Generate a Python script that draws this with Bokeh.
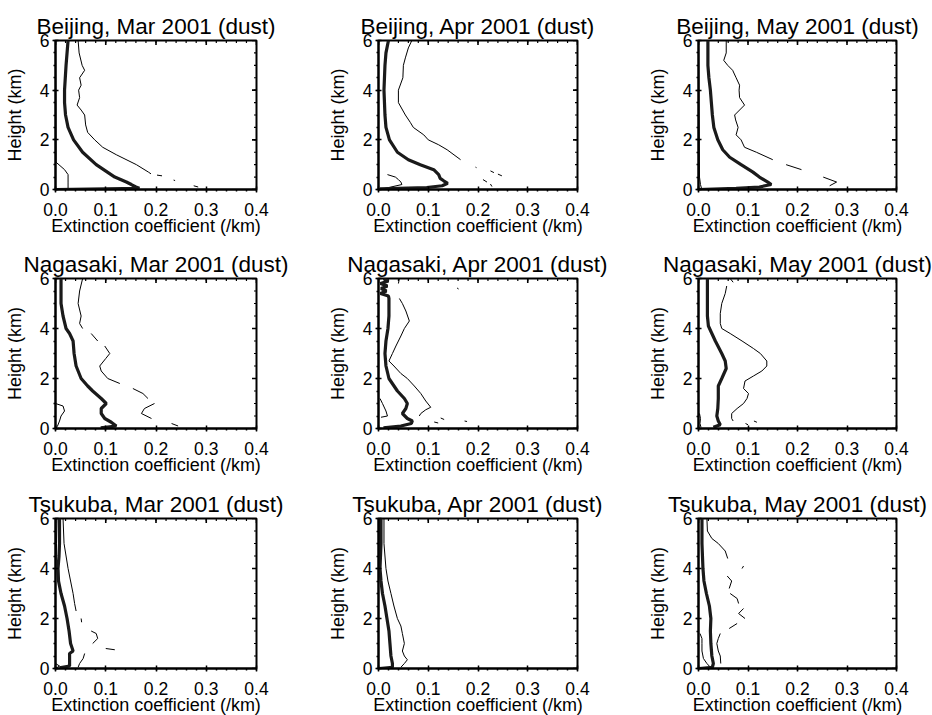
import math
from bokeh.plotting import figure
from bokeh.layouts import gridplot
from bokeh.models import Range1d, FixedTicker, PrintfTickFormatter
from bokeh.embed import file_html
from bokeh.resources import INLINE

NaN = float("nan")

sites = ["Beijing", "Nagasaki", "Tsukuba"]
months = ["Mar", "Apr", "May"]
x_ticks = [0.0, 0.1, 0.2, 0.3, 0.4]
y_ticks = [0, 2, 4, 6]
x_label = "Extinction coefficient (/km)"
y_label = "Height (km)"

# ---------------- Beijing, Mar ----------------
bj_mar_mean_h = [6.0, 5.0, 4.0, 3.5, 3.0, 2.5, 2.0, 1.5, 1.0, 0.5, 0.3, 0.2, 0.1, 0.05, 0.0]
bj_mar_mean_x = [0.025, 0.021, 0.018, 0.018, 0.020, 0.025, 0.036, 0.054, 0.081, 0.118, 0.141, 0.151, 0.160, 0.167, 0.0]
bj_mar_up_h = [6.0, 5.5, 5.0, 4.8, 4.5, 4.2, 4.0, 3.7, 3.4, 3.2, 3.0, 2.6, 2.3, 2.0, 1.7, 1.4, 1.0, 0.7, 0.63, NaN, 0.58, 0.55, NaN, 0.38, 0.36, NaN, 0.15, 0.1]
bj_mar_up_x = [0.045, 0.047, 0.053, 0.058, 0.048, 0.051, 0.046, 0.048, 0.043, 0.051, 0.058, 0.060, 0.064, 0.078, 0.094, 0.121, 0.161, 0.185, 0.190, NaN, 0.202, 0.212, NaN, 0.235, 0.238, NaN, 0.275, 0.284]
bj_mar_lo_h = [6.0, 1.1, 0.8, 0.6, 0.3, 0.05]
bj_mar_lo_x = [0.0, 0.001, 0.018, 0.025, 0.025, 0.025]

# ---------------- Beijing, Apr ----------------
bj_apr_mean_h = [6.0, 5.5, 5.0, 4.0, 3.0, 2.5, 2.0, 1.5, 1.2, 1.0, 0.8, 0.6, 0.45, 0.35, 0.25, 0.15, 0.08, 0.03]
bj_apr_mean_x = [0.020, 0.015, 0.013, 0.011, 0.013, 0.015, 0.022, 0.038, 0.060, 0.084, 0.111, 0.121, 0.124, 0.131, 0.139, 0.128, 0.097, 0.003]
bj_apr_up_h = [6.0, 5.7, 5.3, 5.0, 4.5, 4.0, 3.5, 3.0, 2.7, 2.5, 2.2, 2.0, 1.8, 1.6, 1.2, NaN, 0.9, 0.88, NaN, 0.75, 0.68, NaN, 0.62, 0.55, NaN, 0.4, 0.3, NaN, 0.22, 0.12]
bj_apr_up_x = [0.067, 0.060, 0.054, 0.050, 0.049, 0.040, 0.040, 0.054, 0.064, 0.070, 0.091, 0.100, 0.121, 0.138, 0.165, NaN, 0.195, 0.197, NaN, 0.225, 0.232, NaN, 0.240, 0.248, NaN, 0.210, 0.218, NaN, 0.225, 0.228]
bj_apr_lo_h = [0.6, 0.5, 0.4, 0.3, 0.2, 0.1, 0.0]
bj_apr_lo_x = [0.018, 0.034, 0.040, 0.045, 0.047, 0.025, 0.003]

# ---------------- Beijing, May ----------------
bj_may_mean_h = [6.0, 5.0, 4.5, 4.0, 3.5, 3.0, 2.5, 2.0, 1.6, 1.3, 1.0, 0.7, 0.5, 0.3, 0.2, 0.1, 0.05, 0.0]
bj_may_mean_x = [0.019, 0.019, 0.021, 0.024, 0.026, 0.028, 0.031, 0.039, 0.049, 0.063, 0.086, 0.110, 0.123, 0.140, 0.147, 0.123, 0.076, 0.0]
bj_may_up_h = [6.0, 5.5, 5.2, 5.0, 4.8, 4.5, 4.2, 4.0, 3.7, 3.4, 3.0, 2.8, 2.5, 2.2, 2.0, 1.7, 1.5, 1.2, NaN, 1.0, 0.8, NaN, 0.5, 0.3, 0.15]
bj_may_up_x = [0.056, 0.056, 0.051, 0.059, 0.069, 0.076, 0.083, 0.082, 0.083, 0.093, 0.073, 0.075, 0.080, 0.076, 0.086, 0.093, 0.117, 0.150, NaN, 0.177, 0.208, NaN, 0.252, 0.279, 0.265]
bj_may_lo_h = [6.0, 0.5, 0.2, 0.05]
bj_may_lo_x = [0.0, 0.002, 0.004, 0.006]

# ---------------- Nagasaki, Mar ----------------
ng_mar_mean_h = [6.0, 5.0, 4.5, 4.0, 3.8, 3.5, 3.0, 2.5, 2.0, 1.7, 1.5, 1.2, 1.0, 0.8, 0.6, 0.4, 0.25, 0.1, 0.03]
ng_mar_mean_x = [0.011, 0.011, 0.015, 0.021, 0.028, 0.035, 0.037, 0.041, 0.051, 0.064, 0.074, 0.091, 0.101, 0.091, 0.091, 0.098, 0.111, 0.121, 0.090]
ng_mar_up_h = [6.0, 5.5, 5.0, 4.5, 4.2, 4.0, NaN, 3.8, 3.5, NaN, 3.3, 3.0, 2.8, 2.5, 2.3, 2.0, 1.8, NaN, 1.6, 1.4, 1.2, NaN, 1.0, 0.8, 0.6, 0.4, NaN, 0.2, 0.1]
ng_mar_up_x = [0.054, 0.048, 0.045, 0.051, 0.048, 0.054, NaN, 0.071, 0.084, NaN, 0.098, 0.108, 0.100, 0.088, 0.091, 0.104, 0.128, NaN, 0.154, 0.174, 0.184, NaN, 0.197, 0.177, 0.171, 0.191, NaN, 0.231, 0.244]
ng_mar_lo_h = [1.0, 0.9, 0.7, 0.5, 0.3, 0.1, 0.0]
ng_mar_lo_x = [0.0, 0.015, 0.018, 0.011, 0.008, 0.004, 0.0]

# ---------------- Nagasaki, Apr ----------------
ng_apr_mean_h = [6.0, 5.9, 5.8, 5.7, 5.6, 5.5, 5.4, 5.3, 5.2, 5.0, 4.5, 4.0, 3.5, 3.0, 2.5, 2.0, 1.5, 1.2, 1.0, 0.8, 0.6, 0.4, 0.3, 0.2, 0.1, 0.03]
ng_apr_mean_x = [0.010, 0.020, 0.004, 0.018, 0.005, 0.016, 0.004, 0.020, 0.021, 0.021, 0.021, 0.019, 0.015, 0.013, 0.015, 0.021, 0.038, 0.052, 0.058, 0.055, 0.048, 0.058, 0.068, 0.066, 0.045, 0.010]
ng_apr_up_h = [6.0, 5.8, NaN, 5.62, 5.58, NaN, 5.2, 5.0, 4.7, 4.3, 4.0, 3.7, 3.3, 3.0, 2.7, 2.5, 2.2, 2.0, 1.7, 1.4, 1.1, 0.85, 0.75, 0.6, 0.5, NaN, 0.42, 0.36, NaN, 0.26, 0.22, NaN, 0.30, 0.28]
ng_apr_up_x = [0.042, 0.040, NaN, 0.158, 0.161, NaN, 0.042, 0.048, 0.055, 0.062, 0.052, 0.045, 0.035, 0.028, 0.021, 0.031, 0.045, 0.058, 0.072, 0.085, 0.095, 0.105, 0.095, 0.085, 0.082, NaN, 0.125, 0.132, NaN, 0.112, 0.120, NaN, 0.173, 0.178]
ng_apr_lo_h = [1.2, 1.0, 0.7, 0.5, 0.45]
ng_apr_lo_x = [0.003, 0.008, 0.015, 0.018, 0.005]

# ---------------- Nagasaki, May ----------------
ng_may_mean_h = [6.0, 5.0, 4.5, 4.1, 3.8, 3.5, 3.0, 2.7, 2.4, 2.0, 1.7, 1.2, 0.8, 0.5, 0.3, 0.15, 0.05]
ng_may_mean_x = [0.018, 0.018, 0.018, 0.020, 0.027, 0.034, 0.047, 0.054, 0.056, 0.047, 0.040, 0.040, 0.039, 0.037, 0.040, 0.044, 0.030]
ng_may_up_h = [6.0, 5.85, NaN, 5.7, 5.4, 5.0, 4.6, 4.2, 4.0, 3.8, 3.5, 3.2, 3.0, 2.7, 2.5, 2.3, 2.1, 1.9, 1.6, 1.4, 1.2, 1.0, 0.8, 0.6, 0.4, 0.3, NaN, 0.2, 0.15, NaN, 0.3, 0.25]
ng_may_up_x = [0.064, 0.070, NaN, 0.057, 0.054, 0.047, 0.044, 0.044, 0.047, 0.064, 0.088, 0.111, 0.125, 0.138, 0.138, 0.128, 0.111, 0.094, 0.091, 0.101, 0.098, 0.091, 0.078, 0.067, 0.067, 0.070, NaN, 0.095, 0.100, NaN, 0.112, 0.118]
ng_may_lo_h = [0.6, 0.4, 0.2, 0.05]
ng_may_lo_x = [0.002, 0.004, 0.003, 0.005]

# ---------------- Tsukuba, Mar ----------------
tk_mar_mean_h = [6.0, 5.0, 4.5, 4.0, 3.5, 3.0, 2.5, 2.0, 1.5, 1.0, 0.7, 0.6, 0.4, 0.1, 0.03]
tk_mar_mean_x = [0.008, 0.008, 0.007, 0.005, 0.006, 0.011, 0.018, 0.023, 0.027, 0.030, 0.035, 0.028, 0.028, 0.028, 0.008]
tk_mar_up_h = [6.0, 5.0, 4.5, 4.0, 3.5, 3.0, 2.6, 2.3, NaN, 2.0, 1.85, NaN, 1.5, 1.4, 1.2, 1.0, NaN, 0.8, 0.75, NaN, 0.6, 0.4, 0.2, 0.05]
tk_mar_up_x = [0.015, 0.017, 0.021, 0.025, 0.030, 0.035, 0.038, 0.041, NaN, 0.051, 0.052, NaN, 0.071, 0.081, 0.084, 0.074, NaN, 0.100, 0.118, NaN, 0.058, 0.055, 0.048, 0.045]
tk_mar_lo_h = [6.0, 5.0, 4.0, 3.5, 0.2, 0.1, 0.0]
tk_mar_lo_x = [0.003, 0.002, 0.001, 0.0, 0.0, 0.008, 0.0]

# ---------------- Tsukuba, Apr ----------------
tk_apr_mean_h = [6.0, 5.0, 4.0, 3.5, 3.0, 2.5, 2.0, 1.5, 1.0, 0.5, 0.2, 0.05, 0.0]
tk_apr_mean_x = [0.005, 0.005, 0.003, 0.005, 0.008, 0.013, 0.017, 0.021, 0.023, 0.025, 0.028, 0.028, 0.002]
tk_apr_up_h = [6.0, 5.0, 4.5, 4.0, 3.5, 3.0, 2.5, 2.0, 1.7, 1.4, 1.0, 0.7, 0.5, 0.35, 0.2, 0.05]
tk_apr_up_x = [0.011, 0.011, 0.013, 0.015, 0.019, 0.025, 0.031, 0.038, 0.045, 0.048, 0.052, 0.048, 0.052, 0.058, 0.052, 0.045]
tk_apr_lo_h = [6.0, 4.0, 3.5, 0.1, 0.0]
tk_apr_lo_x = [0.002, 0.001, 0.0, 0.0, 0.0]

# ---------------- Tsukuba, May ----------------
tk_may_mean_h = [6.0, 5.0, 4.0, 3.5, 3.0, 2.5, 2.0, 1.5, 1.0, 0.5, 0.2, 0.05, 0.0]
tk_may_mean_x = [0.007, 0.007, 0.009, 0.011, 0.016, 0.022, 0.025, 0.024, 0.025, 0.027, 0.030, 0.028, 0.002]
tk_may_up_h = [6.0, 5.5, 5.2, 5.0, 4.7, 4.4, NaN, 4.1, 4.0, NaN, 3.7, 3.5, 3.2, NaN, 3.0, 2.8, 2.6, NaN, 2.4, 2.2, 2.0, NaN, 1.8, 1.6, NaN, 1.4, 1.2, 1.0, 0.7, 0.5, 0.2]
tk_may_up_x = [0.017, 0.018, 0.027, 0.040, 0.054, 0.059, NaN, 0.091, 0.088, NaN, 0.058, 0.067, 0.062, NaN, 0.064, 0.078, 0.081, NaN, 0.091, 0.081, 0.094, NaN, 0.078, 0.062, NaN, 0.044, 0.040, 0.037, 0.040, 0.044, 0.045]
tk_may_lo_h = [1.4, 1.2, 1.0, 0.7, 0.4, 0.2, 0.05]
tk_may_lo_x = [0.003, 0.007, 0.007, 0.007, 0.010, 0.017, 0.024]

panels = [
    [(bj_mar_mean_x, bj_mar_mean_h, bj_mar_up_x, bj_mar_up_h, bj_mar_lo_x, bj_mar_lo_h),
     (bj_apr_mean_x, bj_apr_mean_h, bj_apr_up_x, bj_apr_up_h, bj_apr_lo_x, bj_apr_lo_h),
     (bj_may_mean_x, bj_may_mean_h, bj_may_up_x, bj_may_up_h, bj_may_lo_x, bj_may_lo_h)],
    [(ng_mar_mean_x, ng_mar_mean_h, ng_mar_up_x, ng_mar_up_h, ng_mar_lo_x, ng_mar_lo_h),
     (ng_apr_mean_x, ng_apr_mean_h, ng_apr_up_x, ng_apr_up_h, ng_apr_lo_x, ng_apr_lo_h),
     (ng_may_mean_x, ng_may_mean_h, ng_may_up_x, ng_may_up_h, ng_may_lo_x, ng_may_lo_h)],
    [(tk_mar_mean_x, tk_mar_mean_h, tk_mar_up_x, tk_mar_up_h, tk_mar_lo_x, tk_mar_lo_h),
     (tk_apr_mean_x, tk_apr_mean_h, tk_apr_up_x, tk_apr_up_h, tk_apr_lo_x, tk_apr_lo_h),
     (tk_may_mean_x, tk_may_mean_h, tk_may_up_x, tk_may_up_h, tk_may_lo_x, tk_may_lo_h)],
]

FONT = "Liberation Sans"
col_widths = [318, 310, 304]
col_left = [55, 60, 70]
col_right = [62, 51, 36]
row_heights = [246, 240, 240]
row_top = [40, 32, 32]
row_bottom = [57, 58, 58]

x_minor = [round(i * 0.02, 3) for i in range(21)]
y_minor = [i * 0.5 for i in range(13)]


def style_axis(ax):
    ax.axis_line_width = 2
    ax.axis_line_color = "black"
    ax.major_tick_line_width = 1.5
    ax.major_tick_line_color = "black"
    ax.minor_tick_line_color = "black"
    ax.minor_tick_line_width = 1.5
    ax.major_tick_in = 3
    ax.major_tick_out = 3
    ax.minor_tick_in = 0
    ax.minor_tick_out = 2
    ax.major_label_text_font = FONT
    ax.major_label_text_font_size = "17.5px"
    ax.major_label_text_color = "black"
    ax.axis_label_text_font = FONT
    ax.axis_label_text_font_size = "18px"
    ax.axis_label_text_font_style = "normal"
    ax.axis_label_text_color = "black"


rows = []
for r in range(3):
    row = []
    for c in range(3):
        mx, mh, ux, uh, lx, lh = panels[r][c]
        p = figure(width=col_widths[c], height=row_heights[r],
                   x_range=Range1d(0, 0.4), y_range=Range1d(0, 6),
                   output_backend="svg", toolbar_location=None,
                   min_border_left=col_left[c], min_border_right=col_right[c],
                   min_border_top=row_top[r], min_border_bottom=row_bottom[r])
        p.title.text = f"{sites[r]}, {months[c]} 2001 (dust)"
        p.title.align = "center"
        p.title.text_font = FONT
        p.title.text_font_size = "22.5px"
        p.title.text_font_style = "normal"
        p.title.text_color = "black"
        p.title.standoff = 4
        p.grid.visible = False
        p.outline_line_color = "black"
        p.outline_line_width = 2
        p.background_fill_color = "white"
        p.border_fill_color = "white"

        p.xaxis.ticker = FixedTicker(ticks=x_ticks, minor_ticks=x_minor)
        p.yaxis.ticker = FixedTicker(ticks=y_ticks, minor_ticks=y_minor)
        p.xaxis.formatter = PrintfTickFormatter(format="%.1f")
        p.xaxis.axis_label = x_label
        p.yaxis.axis_label = y_label
        style_axis(p.xaxis[0])
        style_axis(p.yaxis[0])
        p.xaxis[0].major_label_standoff = 10
        p.xaxis[0].axis_label_standoff = -3
        p.yaxis[0].major_label_standoff = 3
        p.yaxis[0].axis_label_standoff = 12

        # tick marks on the top and right frame edges, placed at the tick values
        p.scatter(x_ticks, [6] * len(x_ticks), marker="dash", angle=math.pi / 2,
                  size=9, line_color="black", line_width=1.6)
        p.scatter([0.4] * len(y_ticks), y_ticks, marker="dash",
                  size=9, line_color="black", line_width=1.6)
        p.scatter(x_minor, [6] * len(x_minor), marker="dash", angle=math.pi / 2,
                  size=5, line_color="black", line_width=1.2)
        p.scatter([0.4] * len(y_minor), y_minor, marker="dash",
                  size=5, line_color="black", line_width=1.2)

        p.line(lx, lh, line_color="black", line_width=1.0)
        p.line(ux, uh, line_color="black", line_width=1.0)
        p.line(mx, mh, line_color="#1a1a1a", line_width=3.2)
        row.append(p)
    rows.append(row)

grid = gridplot(rows, toolbar_location=None)

open("out.html", "w").write(file_html(grid, INLINE))
